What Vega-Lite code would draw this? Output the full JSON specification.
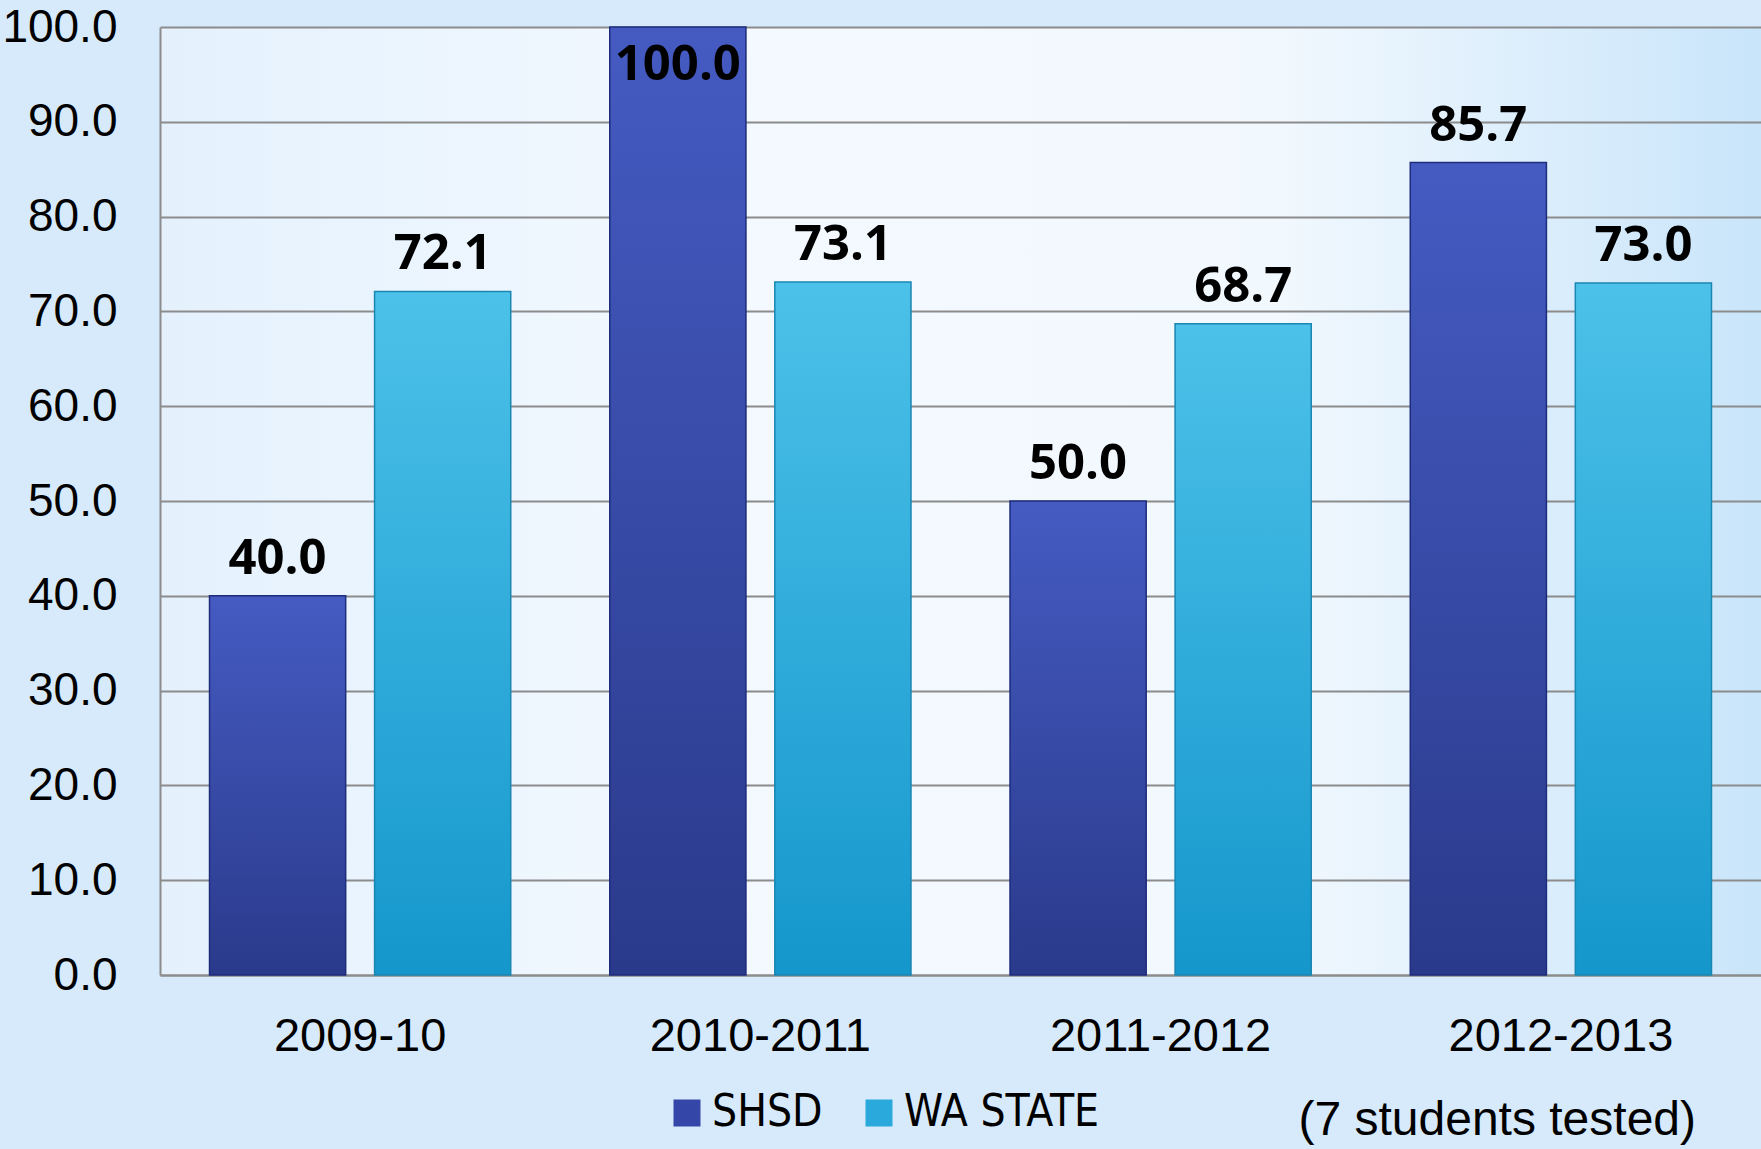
{
  "$schema": "https://vega.github.io/schema/vega-lite/v6.json",
  "width": 1601,
  "height": 948,
  "autosize": {"type": "none"},
  "padding": {"left": 160, "top": 27, "right": 0, "bottom": 174},
  "background": "#d6eafb",
  "title": {
    "text": "(7 students tested)",
    "orient": "bottom",
    "anchor": "end",
    "font": "Liberation Sans, Arial, sans-serif",
    "fontSize": 48,
    "fontWeight": "normal",
    "color": "#000000",
    "offset": -38,
    "dx": -65
  },
  "config": {
    "view": {
      "stroke": null,
      "fill": {
        "gradient": "linear",
        "x1": 0, "y1": 0, "x2": 1, "y2": 0,
        "stops": [
          {"offset": 0, "color": "#e4f1fd"},
          {"offset": 0.35, "color": "#f3f9ff"},
          {"offset": 0.7, "color": "#f1f8fe"},
          {"offset": 1, "color": "#c9e5fa"}
        ]
      }
    }
  },
  "data": {
    "values": [
      {"year": "2009-10", "group": "SHSD", "value": 40.0},
      {"year": "2009-10", "group": "WA STATE", "value": 72.1},
      {"year": "2010-2011", "group": "SHSD", "value": 100.0},
      {"year": "2010-2011", "group": "WA STATE", "value": 73.1},
      {"year": "2011-2012", "group": "SHSD", "value": 50.0},
      {"year": "2011-2012", "group": "WA STATE", "value": 68.7},
      {"year": "2012-2013", "group": "SHSD", "value": 85.7},
      {"year": "2012-2013", "group": "WA STATE", "value": 73.0}
    ]
  },
  "encoding": {
    "x": {
      "field": "year",
      "type": "nominal",
      "sort": null,
      "scale": {"paddingInner": 0, "paddingOuter": 0},
      "axis": {
        "title": null,
        "labelAngle": 0,
        "labelLimit": 0,
        "labelFont": "Liberation Sans, Arial, sans-serif",
        "labelFontSize": 47,
        "labelColor": "#000000",
        "labelPadding": 38,
        "ticks": false,
        "domainColor": "#8c8c8c",
        "domainWidth": 2
      }
    },
    "xOffset": {
      "field": "group",
      "type": "nominal",
      "scale": {"paddingInner": 0.175, "paddingOuter": 0.3}
    },
    "y": {
      "field": "value",
      "type": "quantitative",
      "scale": {"domain": [0, 100], "nice": false},
      "axis": {
        "title": null,
        "values": [0, 10, 20, 30, 40, 50, 60, 70, 80, 90, 100],
        "format": ".1f",
        "labelFont": "Liberation Sans, Arial, sans-serif",
        "labelFontSize": 46,
        "labelColor": "#000000",
        "labelPadding": 43,
        "ticks": false,
        "domainColor": "#8c8c8c",
        "domainWidth": 2,
        "gridColor": "#8c8c8c",
        "gridWidth": 2,
        "gridOpacity": 1
      }
    }
  },
  "layer": [
    {
      "mark": {"type": "bar"},
      "encoding": {
        "color": {
          "field": "group",
          "type": "nominal",
          "scale": {"domain": ["SHSD", "WA STATE"], "range": ["#3447a8", "#2aa9dc"]},
          "legend": {
            "title": null,
            "orient": "none",
            "direction": "horizontal",
            "legendX": 505,
            "legendY": 1064,
            "symbolType": "square",
            "symbolSize": 729,
            "symbolStrokeWidth": 0,
            "labelFont": "Liberation Sans Narrow, DejaVu Sans Condensed, sans-serif",
            "labelFontSize": 44,
            "labelColor": "#000000",
            "labelOffset": 3,
            "columnPadding": 34,
            "labelLimit": 400
          }
        }
      }
    },
    {
      "transform": [{"filter": "datum.group === 'SHSD'"}],
      "mark": {
        "type": "bar",
        "stroke": "#1e2c7c",
        "strokeWidth": 1.5,
        "fill": {
          "gradient": "linear",
          "x1": 0, "y1": 0, "x2": 0, "y2": 1,
          "stops": [
            {"offset": 0, "color": "#455bc2"},
            {"offset": 1, "color": "#2a3a8b"}
          ]
        }
      }
    },
    {
      "transform": [{"filter": "datum.group === 'WA STATE'"}],
      "mark": {
        "type": "bar",
        "stroke": "#1a86b2",
        "strokeWidth": 1.5,
        "fill": {
          "gradient": "linear",
          "x1": 0, "y1": 0, "x2": 0, "y2": 1,
          "stops": [
            {"offset": 0, "color": "#4cc1e9"},
            {"offset": 1, "color": "#1597cc"}
          ]
        }
      }
    },
    {
      "transform": [{"filter": "datum.value < 100"}],
      "mark": {
        "type": "text",
        "baseline": "alphabetic",
        "align": "center",
        "dy": -22,
        "font": "Open Sans, sans-serif",
        "fontWeight": "bold",
        "fontSize": 49,
        "color": "#000000"
      },
      "encoding": {
        "text": {"field": "value", "type": "quantitative", "format": ".1f"}
      }
    },
    {
      "transform": [{"filter": "datum.value >= 100"}],
      "mark": {
        "type": "text",
        "baseline": "alphabetic",
        "align": "center",
        "dy": 53,
        "font": "Open Sans, sans-serif",
        "fontWeight": "bold",
        "fontSize": 49,
        "color": "#000000"
      },
      "encoding": {
        "text": {"field": "value", "type": "quantitative", "format": ".1f"}
      }
    }
  ]
}
